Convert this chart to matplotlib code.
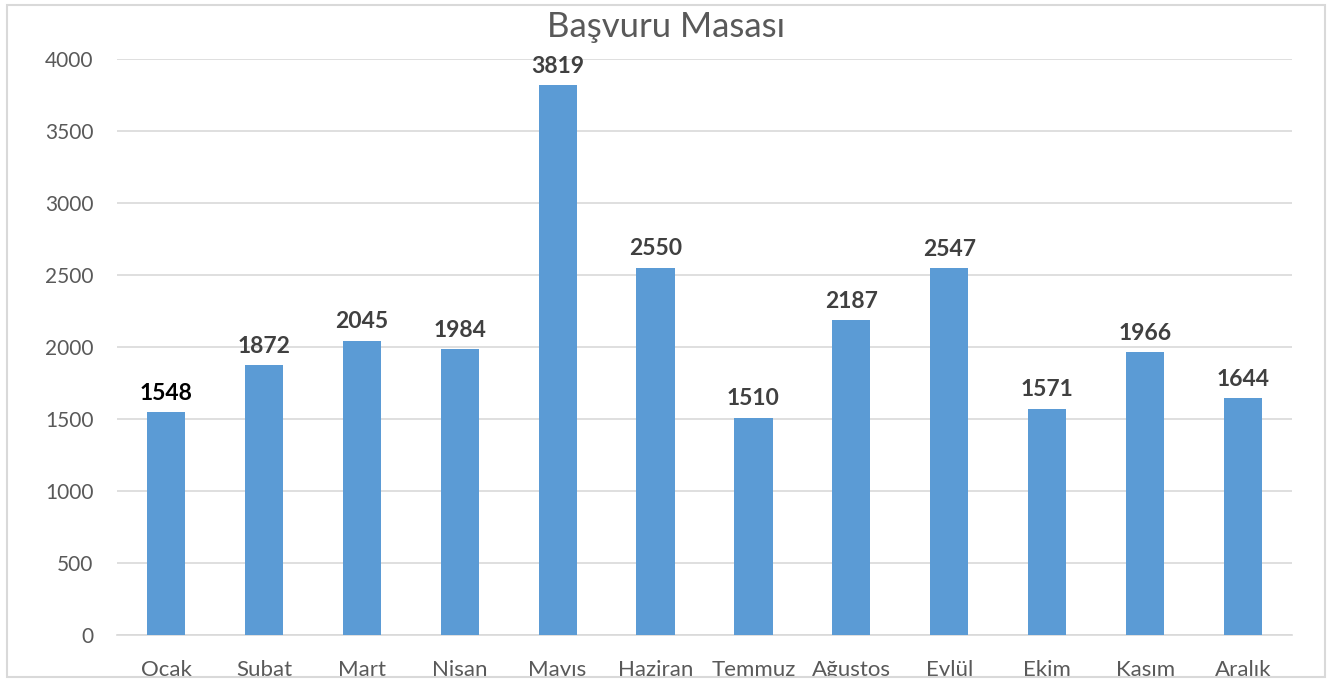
import matplotlib
matplotlib.use("Agg")
import matplotlib.pyplot as plt
from matplotlib.patches import Rectangle

months = ["Ocak", "Şubat", "Mart", "Nisan", "Mayıs", "Haziran", "Temmuz",
          "Ağustos", "Eylül", "Ekim", "Kasım", "Aralık"]
values = [1548, 1872, 2045, 1984, 3819, 2550, 1510, 2187, 2547, 1571, 1966, 1644]
yticks = [0, 500, 1000, 1500, 2000, 2500, 3000, 3500, 4000]
title = "Başvuru Masası"

plt.rcParams['font.family'] = ['Lato', 'DejaVu Sans']

W, H = 1342, 681
fig = plt.figure(figsize=(W / 100, H / 100), dpi=100)
# plot area in pixels: x 117..1292, y 59..635
ax = fig.add_axes([117 / W, 1 - 635 / H, (1292 - 117) / W, (635 - 59) / H])

x = list(range(len(months)))
ax.bar(x, values, width=0.39, color="#5B9BD5", zorder=3)
ax.set_xlim(-0.5, len(months) - 0.5)
ax.set_ylim(0, 4000)
ax.set_yticks(yticks)
ax.set_yticklabels([str(t) for t in yticks], fontsize=15, color="#595959")
ax.set_xticks(x)
ax.set_xticklabels(months, fontsize=16, color="#595959")
ax.tick_params(axis="both", length=0)
ax.tick_params(axis="y", pad=17)
ax.tick_params(axis="x", pad=18)
ax.grid(axis="y", color="#D9D9D9", linewidth=1.2, zorder=0)
for s in ["top", "right", "left"]:
    ax.spines[s].set_visible(False)
ax.spines["bottom"].set_color("#D9D9D9")
ax.spines["bottom"].set_linewidth(1.2)

for i, v in enumerate(values):
    ax.annotate(str(v), (i, v), xytext=(0, 6), textcoords="offset points",
                ha="center", va="bottom", fontsize=16.5, fontweight="bold",
                color="black" if i == 0 else "#404040", zorder=4)

fig.text(666 / W, 1 - 37 / H, title, ha="center", va="baseline",
         fontsize=25, color="#595959")

# clip bottom and draw chart border
fig.patches.append(Rectangle((0, 0), 1, 4 / H, transform=fig.transFigure,
                             facecolor="white", edgecolor="none", zorder=10))
fig.patches.append(Rectangle((7 / W, 4 / H), (1325 - 7) / W, (H - 5 - 4) / H,
                             transform=fig.transFigure, facecolor="none",
                             edgecolor="#D9D9D9", linewidth=1.5, zorder=11))

fig.savefig("out.png", dpi=100)
